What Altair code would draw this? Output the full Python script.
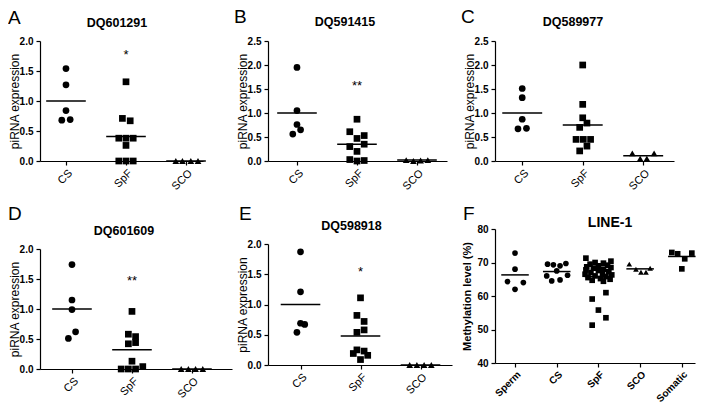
import altair as alt
import pandas as pd

FONT = "Liberation Sans"

PIRNA_GROUPS = ["CS", "SpF", "SCO"]
PIRNA_SHAPES = ["circle", "square", "triangle-up"]
LINE1_GROUPS = ["Sperm", "CS", "SpF", "SCO", "Somatic"]
LINE1_SHAPES = ["circle", "square", "triangle-up", "triangle-down", "diamond"]

# ---- Panel A: DQ601291 ----
A_CS = [1.54, 1.27, 0.84, 0.68, 0.69]
A_CS_JIT = [0, 0, 0, -0.07, 0.07]
A_SPF = [1.32, 0.71, 0.67, 0.38, 0.38, 0.38, 0.26, 0.0, 0.0, 0.0]
A_SPF_JIT = [0, -0.06, 0.07, -0.12, 0, 0.12, 0, -0.12, 0, 0.12]
A_SCO = [0.0, 0.0, 0.0, 0.0]
A_SCO_JIT = [-0.17, -0.06, 0.08, 0.2]
A_MEANS = [1.0, 0.41, 0.0]
A_STAR = ("*", 1.77)

# ---- Panel B: DQ591415 ----
B_CS = [1.95, 1.05, 0.76, 0.56, 0.65]
B_CS_JIT = [0, 0, 0, -0.07, 0.06]
B_SPF = [0.87, 0.61, 0.47, 0.53, 0.30, 0.35, 0.20, 0.03, 0.0, 0.01]
B_SPF_JIT = [0, -0.12, 0, 0.12, -0.12, 0.12, 0, -0.12, 0, 0.12]
B_SCO = [0.02, 0.0, 0.01, 0.02]
B_SCO_JIT = [-0.18, -0.06, 0.06, 0.18]
B_MEANS = [1.0, 0.35, 0.02]
B_STAR = ("**", 1.57)

# ---- Panel C: DQ589977 ----
C_CS = [1.51, 1.32, 0.87, 0.67, 0.68]
C_CS_JIT = [0, 0, 0, -0.07, 0.07]
C_SPF = [2.0, 1.18, 0.90, 0.79, 0.70, 0.45, 0.45, 0.45, 0.31, 0.21]
C_SPF_JIT = [0, 0, 0, 0.07, -0.05, -0.11, 0.01, 0.13, 0.07, -0.05]
C_SCO = [0.16, 0.05, 0.05, 0.16]
C_SCO_JIT = [-0.18, -0.05, 0.06, 0.18]
C_MEANS = [1.0, 0.75, 0.11]
C_STAR = ("", 0)

# ---- Panel D: DQ601609 ----
D_CS = [1.74, 1.15, 0.99, 0.62, 0.51]
D_CS_JIT = [0, 0, 0, 0.06, -0.06]
D_SPF = [0.96, 0.58, 0.54, 0.42, 0.44, 0.13, 0.0, 0.0, 0.0, 0.04]
D_SPF_JIT = [0, -0.06, 0.06, -0.06, 0.06, 0, -0.18, -0.06, 0.06, 0.18]
D_SCO = [0.0, 0.0, 0.0, 0.0]
D_SCO_JIT = [-0.18, -0.06, 0.06, 0.18]
D_MEANS = [1.0, 0.32, 0.0]
D_STAR = ("**", 1.47)

# ---- Panel E: DQ598918 ----
E_CS = [1.87, 1.21, 0.69, 0.67, 0.54]
E_CS_JIT = [0, 0, 0, 0.07, -0.06]
E_SPF = [1.11, 0.82, 0.72, 0.58, 0.54, 0.25, 0.19, 0.23, 0.16, 0.09]
E_SPF_JIT = [0, -0.06, 0.06, 0.06, -0.06, -0.06, -0.12, 0.06, 0.12, 0]
E_SCO = [0.0, 0.0, 0.0, 0.0]
E_SCO_JIT = [-0.18, -0.06, 0.06, 0.18]
E_MEANS = [1.0, 0.48, 0.0]
E_STAR = ("*", 1.53)

# ---- Panel F: LINE-1 methylation (%) ----
F_SPERM = [72.8, 68.0, 64.3, 64.0, 62.0]
F_SPERM_JIT = [0, 0, -0.18, 0.2, 0]
F_CS = [69.5, 69.3, 69.0, 69.7, 67.5, 66.0, 66.2, 64.5, 64.8]
F_CS_JIT = [-0.22, -0.08, 0.08, 0.22, 0, -0.24, 0.26, -0.12, 0.08]
F_SPF = [71.3, 70.4, 70.0, 69.8, 69.5, 69.2, 69.0, 68.7, 68.5, 68.3,
         68.0, 67.8, 67.6, 67.3, 67.0, 66.8, 66.5, 66.3, 66.0, 65.8,
         65.5, 65.2, 65.0, 64.7, 64.4, 61.0, 59.1, 55.8, 53.5, 51.3]
F_SPF_JIT = [-0.30, 0.30, -0.08, 0.12, -0.20, 0.22, 0.0, -0.28, 0.30, -0.12,
             0.12, -0.30, 0.0, 0.25, -0.18, 0.10, -0.32, 0.32, -0.08, 0.18,
             -0.25, 0.05, 0.28, -0.15, 0.12, 0.18, -0.15, 0.0, 0.18, -0.15]
F_SCO = [69.5, 68.0, 67.1, 67.1, 68.3]
F_SCO_JIT = [-0.26, -0.10, 0.02, 0.14, 0.24]
F_SOM = [73.0, 72.6, 71.1, 72.8, 68.1]
F_SOM_JIT = [-0.24, -0.10, 0.07, 0.24, 0]
F_MEANS = [66.3, 67.3, 65.8, 68.1, 71.8]


def build_points(groups, values, jitters):
    rows = []
    for i, (g, vals, jits) in enumerate(zip(groups, values, jitters), start=1):
        for v, j in zip(vals, jits):
            rows.append({"g": g, "x": i + j, "v": v})
    return pd.DataFrame(rows)


def panel(letter, title, groups, shapes, values, jitters, means, star,
          xdom, ydom, yvals, yfmt, ytitle, width, height,
          letter_pos, title_pos, size, xlab_bold, ytitle_bold, ytitle_size,
          title_size, ytitle_pad):
    n = len(groups)
    pts = build_points(groups, values, jitters)
    label_expr = "[" + ",".join("'%s'" % g for g in groups) + "][datum.value - 1]"
    xscale = alt.Scale(domain=xdom, nice=False, zero=False)
    yscale = alt.Scale(domain=ydom, nice=False, zero=False)
    xaxis = alt.Axis(values=list(range(1, n + 1)), labelExpr=label_expr,
                     labelAngle=-45, labelFontSize=11 if not xlab_bold else 10,
                     labelFontWeight="bold" if xlab_bold else "normal",
                     labelPadding=2, labelOverlap=False, title=None)
    yaxis = alt.Axis(values=yvals, format=yfmt, labelFontSize=10,
                     labelFontWeight="bold", labelPadding=3, labelOverlap=False,
                     titleFontSize=ytitle_size,
                     titleFontWeight="bold" if ytitle_bold else "normal",
                     titlePadding=ytitle_pad, title=ytitle)

    points = alt.Chart(pts).mark_point(
        filled=True, opacity=1, color="black", size=size
    ).encode(
        x=alt.X("x:Q", scale=xscale, axis=xaxis),
        y=alt.Y("v:Q", scale=yscale, axis=yaxis),
        shape=alt.Shape("g:N", scale=alt.Scale(domain=groups, range=shapes), legend=None),
    )

    mdf = pd.DataFrame({"i": list(range(1, n + 1)), "v": means})
    rules = alt.Chart(mdf).transform_calculate(
        x="datum.i - 0.33", x2="datum.i + 0.33"
    ).mark_rule(color="black", strokeWidth=1.5).encode(
        x=alt.X("x:Q", scale=xscale, axis=xaxis),
        x2="x2:Q",
        y=alt.Y("v:Q", scale=yscale, axis=yaxis),
    )

    layers = [points, rules]
    if star[0]:
        sdf = pd.DataFrame({"x": [2], "v": [star[1]], "t": [star[0]]})
        layers.append(
            alt.Chart(sdf).mark_text(fontSize=13, font=FONT, color="black", baseline="middle")
            .encode(x=alt.X("x:Q", scale=xscale, axis=xaxis),
                    y=alt.Y("v:Q", scale=yscale, axis=yaxis), text="t:N")
        )

    ldf = pd.DataFrame({"t": [letter]})
    layers.append(
        alt.Chart(ldf).mark_text(fontSize=19, font=FONT, color="black",
                                 align="left", baseline="top")
        .encode(x=alt.value(letter_pos[0]), y=alt.value(letter_pos[1]), text="t:N")
    )
    tdf = pd.DataFrame({"t": [title]})
    layers.append(
        alt.Chart(tdf).mark_text(fontSize=title_size, font=FONT, fontWeight="bold",
                                 color="black", align="center", baseline="alphabetic")
        .encode(x=alt.value(title_pos[0]), y=alt.value(title_pos[1]), text="t:N")
    )
    return alt.layer(*layers).properties(width=width, height=height)


PIRNA_Y = [0.0, 0.5, 1.0, 1.5, 2.0]
PIRNA_Y25 = [0.0, 0.5, 1.0, 1.5, 2.0, 2.5]

pA = panel("A", "DQ601291", PIRNA_GROUPS, PIRNA_SHAPES,
           [A_CS, A_SPF, A_SCO], [A_CS_JIT, A_SPF_JIT, A_SCO_JIT], A_MEANS, A_STAR,
           [0.567, 3.283], [0, 2.0], PIRNA_Y, ".1f", "piRNA expression", 163, 120,
           (-32, -32), (77, -14), 45, False, False, 12, 12.5, -2)
pB = panel("B", "DQ591415", PIRNA_GROUPS, PIRNA_SHAPES,
           [B_CS, B_SPF, B_SCO], [B_CS_JIT, B_SPF_JIT, B_SCO_JIT], B_MEANS, B_STAR,
           [0.517, 3.50], [0, 2.5], PIRNA_Y25, ".1f", "piRNA expression", 179, 120,
           (-34, -33), (77, -15), 45, False, False, 12, 12.5, -2)
pC = panel("C", "DQ589977", PIRNA_GROUPS, PIRNA_SHAPES,
           [C_CS, C_SPF, C_SCO], [C_CS_JIT, C_SPF_JIT, C_SCO_JIT], C_MEANS, C_STAR,
           [0.55, 3.509], [0, 2.5], PIRNA_Y25, ".1f", "piRNA expression", 179, 120,
           (-34, -33), (78, -15), 45, False, False, 12, 12.5, -2)
pD = panel("D", "DQ601609", PIRNA_GROUPS, PIRNA_SHAPES,
           [D_CS, D_SPF, D_SCO], [D_CS_JIT, D_SPF_JIT, D_SCO_JIT], D_MEANS, D_STAR,
           [0.467, 3.667], [0, 2.0], PIRNA_Y, ".1f", "piRNA expression", 192, 120,
           (-32, -44), (84, -14), 45, False, False, 12, 12.5, -2)
pE = panel("E", "DQ598918", PIRNA_GROUPS, PIRNA_SHAPES,
           [E_CS, E_SPF, E_SCO], [E_CS_JIT, E_SPF_JIT, E_SCO_JIT], E_MEANS, E_STAR,
           [0.458, 3.525], [0, 2.0], PIRNA_Y, ".1f", "piRNA expression", 184, 121,
           (-29, -39), (83.5, -14), 45, False, False, 12, 12.5, -2)
pF = panel("F", "LINE-1", LINE1_GROUPS, LINE1_SHAPES,
           [F_SPERM, F_CS, F_SPF, F_SCO, F_SOM],
           [F_SPERM_JIT, F_CS_JIT, F_SPF_JIT, F_SCO_JIT, F_SOM_JIT], F_MEANS, ("", 0),
           [0.52, 5.316], [40, 80], [40, 50, 60, 70, 80], "d", "Methylation level (%)", 200, 134,
           (-32, -24), (115, -2), 32, True, True, 11, 14, 4)

col1 = alt.vconcat(pA, pD, spacing=13)
col2 = alt.vconcat(pB, pE, spacing=13)
col3 = alt.vconcat(pC, pF, spacing=13)

chart = alt.hconcat(
    alt.hconcat(col1, col2, spacing=2), col3, spacing=9
).properties(
    padding=0, background="white"
).configure_axis(
    domainColor="black", tickColor="black", labelColor="black", titleColor="black",
    domainWidth=1.2, tickWidth=1.2, tickSize=4, grid=False,
    labelFont=FONT, titleFont=FONT,
).configure_view(stroke=None)

chart.save("out.html", embed_options={"renderer": "svg", "actions": False})
